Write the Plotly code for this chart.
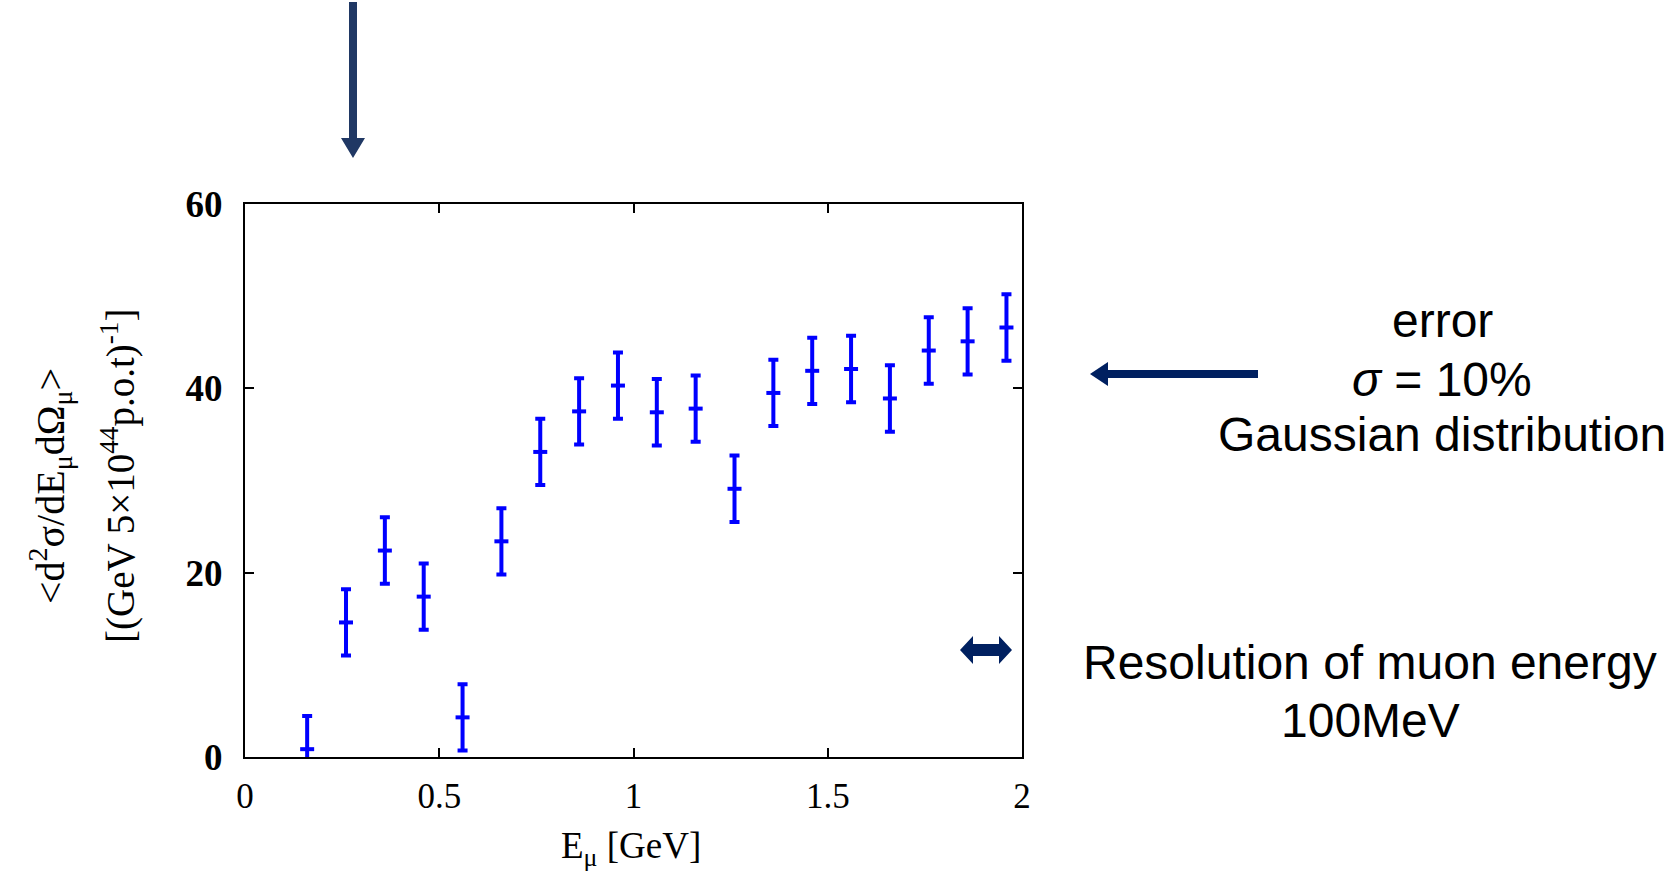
import plotly.graph_objects as go

# Muon energy bins (GeV), cross-section averages and their errors
e_mu = [0.16, 0.26, 0.36, 0.46, 0.56, 0.66, 0.76, 0.86, 0.96, 1.06,
        1.16, 1.26, 1.36, 1.46, 1.56, 1.66, 1.76, 1.86, 1.96]
xsec = [0.85, 14.6, 22.4, 17.4, 4.3, 23.4, 33.1, 37.5, 40.3, 37.4,
        37.8, 29.1, 39.5, 41.9, 42.1, 38.9, 44.1, 45.1, 46.6]
xsec_err = [3.6] * len(e_mu)

x_ticks = [0, 0.5, 1, 1.5, 2]
x_tick_text = ["0", "0.5", "1", "1.5", "2"]
y_ticks = [0, 20, 40, 60]
y_tick_text = ["<b>0</b>", "<b>20</b>", "<b>40</b>", "<b>60</b>"]

W, H = 1672, 879
L, R, T, B = 245, 1022, 204, 757  # plot-area edges in pixels

SERIF = "Liberation Serif"
SANS = "Liberation Sans"


def px(x):
    return (x - L) / (R - L)


def py(y):
    return (B - y) / (B - T)


def poly(points):
    return "M " + " L ".join(f"{px(a):.5f},{py(b):.5f}" for a, b in points) + " Z"


fig = go.Figure()
fig.add_trace(go.Scatter(
    x=e_mu, y=xsec,
    mode="markers",
    marker=dict(symbol="line-ew", size=10, color="#0000FF",
                line=dict(color="#0000FF", width=4)),
    error_y=dict(type="data", array=xsec_err, visible=True,
                 thickness=4, width=5, color="#0000FF"),
    showlegend=False,
))

axis_common = dict(
    showline=True, linecolor="black", linewidth=2, mirror="ticks",
    ticks="inside", ticklen=9, tickwidth=1.5, tickcolor="black",
    showgrid=False, zeroline=False,
)

fig.update_xaxes(range=[0, 2], tickvals=x_ticks, ticktext=x_tick_text,
                 tickfont=dict(family=SERIF, size=35, color="black"),
                 ticklabelstandoff=7, **axis_common)
fig.update_yaxes(range=[0, 60], tickvals=y_ticks, ticktext=y_tick_text,
                 tickfont=dict(family=SERIF, size=37, color="black"),
                 ticklabelstandoff=13, **axis_common)

annotations = [
    # axis titles
    dict(text="E<sub>μ</sub> [GeV]", x=px(631), y=py(848),
         font=dict(family=SERIF, size=37, color="black")),
    dict(text="&lt;d<sup>2</sup>σ/dE<sub>μ</sub>dΩ<sub>μ</sub>&gt;", x=px(50), y=py(486),
         textangle=-90, font=dict(family=SERIF, size=40, color="black")),
    dict(text="[(GeV 5×10<sup>44</sup>p.o.t)<sup>-1</sup>]", x=px(118), y=py(476),
         textangle=-90, font=dict(family=SERIF, size=39, color="black")),
    # notes on the right
    dict(text="error", x=px(1442), y=py(320),
         font=dict(family=SANS, size=48, color="black")),
    dict(text="<i>σ</i> = 10%", x=px(1442), y=py(379),
         font=dict(family=SANS, size=48, color="black")),
    dict(text="Gaussian distribution", x=px(1442), y=py(434),
         font=dict(family=SANS, size=48, color="black")),
    dict(text="Resolution of muon energy", x=px(1370), y=py(662),
         font=dict(family=SANS, size=48, color="black")),
    dict(text="100MeV", x=px(1370), y=py(720),
         font=dict(family=SANS, size=48, color="black")),
]
for a in annotations:
    a.update(xref="paper", yref="paper", showarrow=False,
             xanchor="center", yanchor="middle")

shapes = [
    # downward arrow above the plot
    dict(path=poly([(349, 2), (357, 2), (357, 138), (365, 138), (353, 158),
                    (341, 138), (349, 138)]),
         fillcolor="#203864", line=dict(width=0)),
    # leftward arrow pointing at the error note
    dict(path=poly([(1258, 370), (1108, 370), (1108, 362), (1090, 374),
                    (1108, 386), (1108, 378), (1258, 378)]),
         fillcolor="#002060", line=dict(width=0)),
    # double-headed arrow showing the energy resolution
    dict(path=poly([(960, 650), (973, 636), (973, 644), (999, 644), (999, 636),
                    (1012, 650), (999, 664), (999, 656), (973, 656), (973, 664)]),
         fillcolor="#002060", line=dict(width=0)),
]
for s in shapes:
    s.update(type="path", xref="paper", yref="paper", layer="above")

fig.update_layout(
    width=W, height=H, autosize=False,
    margin=dict(l=L, r=W - R, t=T, b=H - B, pad=0),
    paper_bgcolor="white", plot_bgcolor="white",
    annotations=annotations, shapes=shapes,
)

fig.write_html("out.html")
